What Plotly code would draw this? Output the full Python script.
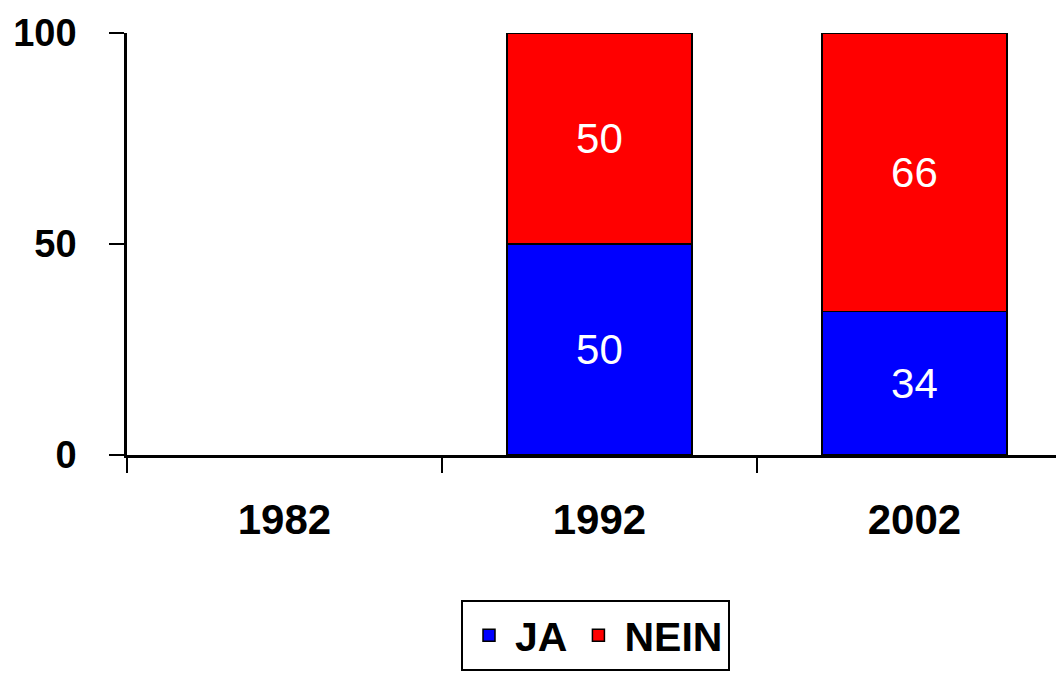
import plotly.graph_objects as go

years = ["1982", "1992", "2002"]
ja = [None, 50, 34]
nein = [None, 50, 66]
y_ticks = [0, 50, 100]

FONT = "Liberation Sans, Arial, sans-serif"

fig = go.Figure()
fig.add_trace(go.Bar(
    name="JA", x=years, y=ja,
    marker=dict(color="#0000FF", line=dict(color="black", width=1.5)),
    text=[("" if v is None else str(v)) for v in ja],
    textposition="inside", insidetextanchor="middle", textangle=0,
    constraintext="none",
    textfont=dict(family=FONT, size=42, color="white"),
    width=0.587,
))
fig.add_trace(go.Bar(
    name="NEIN", x=years, y=nein,
    marker=dict(color="#FF0000", line=dict(color="black", width=1.5)),
    text=[("" if v is None else str(v)) for v in nein],
    textposition="inside", insidetextanchor="middle", textangle=0,
    constraintext="none",
    textfont=dict(family=FONT, size=42, color="white"),
    width=0.587,
))

# the page body has an 8px margin; compensate so the plot sits where the reference has it
fig.update_layout(
    barmode="stack",
    width=1056, height=672,
    margin=dict(l=119, r=0, t=25, b=225),
    paper_bgcolor="white", plot_bgcolor="white",
    font=dict(family=FONT, color="black"),
    showlegend=True,
    legend=dict(
        orientation="h", x=0.5, xanchor="center", y=-0.3436, yanchor="top",
        bordercolor="black", borderwidth=2, bgcolor="white",
        font=dict(family=FONT, size=41, color="black", weight="bold"),
        traceorder="normal", itemwidth=42,
    ),
    xaxis=dict(
        type="category", range=[-0.5, 2.475],
        showline=True, linecolor="black", linewidth=2.5,
        ticks="outside", ticklen=15, tickwidth=2, tickcolor="black",
        tickson="boundaries", showgrid=False, zeroline=False,
        tickfont=dict(family=FONT, size=42, color="black", weight="bold"),
        ticklabelstandoff=26,
    ),
    yaxis=dict(
        range=[0, 100], tickvals=y_ticks,
        showline=True, linecolor="black", linewidth=2.5,
        ticks="outside", ticklen=15, tickwidth=2, tickcolor="black",
        showgrid=False, zeroline=False,
        tickfont=dict(family=FONT, size=38, color="black", weight="bold"),
        ticklabelstandoff=25,
    ),
)

fig.write_html("out.html")
